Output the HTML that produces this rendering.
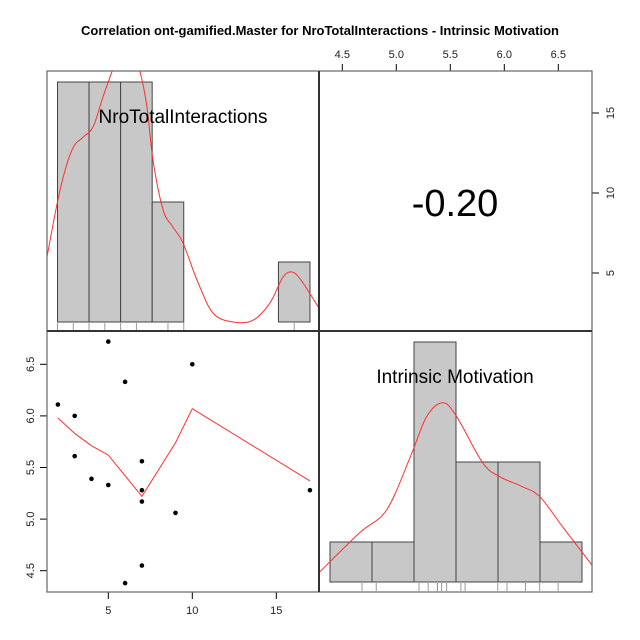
<!DOCTYPE html>
<html><head><meta charset="utf-8"><style>
html,body{margin:0;padding:0;background:#fff;}
svg{display:block;font-family:"Liberation Sans",Arial,sans-serif;}
</style></head><body>
<svg id="chart" width="640" height="640" viewBox="0 0 640 640" xmlns="http://www.w3.org/2000/svg">
<defs>
<clipPath id="clipTL"><rect x="47" y="71" width="272" height="260"/></clipPath>
<clipPath id="clipBR"><rect x="319" y="331" width="273" height="261"/></clipPath>
</defs>
<text x="320" y="35" text-anchor="middle" font-size="13" font-weight="bold">Correlation ont-gamified.Master for NroTotalInteractions - Intrinsic Motivation</text>
<g id="tl"></g>
<g id="tr"></g>
<g id="bl"></g>
<g id="br"></g>
<g id="frame"></g>
</svg>
<script>
// ---- data ----
const nroValues = [2,3,3,4,5,5,6,6,7,7,7,7,9,10,17];
const intrinsicValues = [6.11,6.00,5.61,5.39,6.72,5.33,6.33,4.38,5.56,5.28,5.17,4.55,5.06,6.50,5.28];
const loessX = [2,3,4,5,7,9,10,17];
const loessY = [5.98,5.83,5.71,5.62,5.22,5.74,6.07,5.37];
const nroBreaks = [2,4,6,8,10,12,14,16,18];
const nroCounts = [4,4,4,2,0,0,0,1];
const nroDensX = [1.33,2.16,2.92,3.62,4.25,4.88,5.45,5.96,6.59,7.23,7.67,8.05,8.69,9.32,9.95,10.84,11.85,13.12,14.39,15.47,16.29,16.92,17.56,18.57];
const nroDensY = [1.08,2.2,2.87,3.08,3.25,3.75,4.17,4.53,4.67,4.17,3.58,2.7,1.87,1.58,1.32,0.7,0.15,0,0.03,0.32,0.75,0.83,0.65,0.23];
const intCounts = [1,1,6,3,3,1];
const intBreakMin = 4.39, intBreakMax = 6.72;
const intDensX = [4.29,4.66,4.91,5.13,5.28,5.43,5.56,5.80,5.96,6.17,6.33,6.54,6.81];
const intDensY = [0.25,1.23,1.8,3.13,4.13,4.48,4.13,2.98,2.63,2.38,2.13,1.38,0.43];
const topTicks = ["4.5","5.0","5.5","6.0","6.5"];
const rightTicks = ["5","10","15"];
const leftTicks = ["4.5","5.0","5.5","6.0","6.5"];
const bottomTicks = ["5","10","15"];
const corrLabel = "-0.20";

// ---- scales ----
const NS = "http://www.w3.org/2000/svg";
const sx = v => 24.3 + v*16.8;               // scatter x
const sy = v => 570.7 - (v-4.5)*103.2;       // scatter y
const hx = v => 57.5 + (v-2)*15.78;          // top-left hist x
const hy = c => 322 - c*60;                  // top-left hist y
const tx = v => 342.3 + (v-4.5)*108;         // top axis
const ry = v => 273 - (v-5)*16;              // right axis
const bx = v => 330 + (v-intBreakMin)*(252/(intBreakMax-intBreakMin)); // br hist x
const by = c => 582 - c*40;
const rugB = v => 362 + (v-4.38)*83.8;

function mk(tag, attrs, parent){const e=document.createElementNS(NS,tag);for(const k in attrs)e.setAttribute(k,attrs[k]);parent.appendChild(e);return e;}
function smooth(pts){let d="M"+pts[0][0]+","+pts[0][1];for(let i=0;i<pts.length-1;i++){const p0=pts[i-1]||pts[i],p1=pts[i],p2=pts[i+1],p3=pts[i+2]||p2;const c1=[p1[0]+(p2[0]-p0[0])/6,p1[1]+(p2[1]-p0[1])/6],c2=[p2[0]-(p3[0]-p1[0])/6,p2[1]-(p3[1]-p1[1])/6];d+=" C"+c1[0]+","+c1[1]+" "+c2[0]+","+c2[1]+" "+p2[0]+","+p2[1];}return d;}

const TL=document.getElementById('tl'),TR=document.getElementById('tr'),BL=document.getElementById('bl'),BR=document.getElementById('br'),FR=document.getElementById('frame');

// top-left histogram
nroCounts.forEach((c,i)=>{ if(c<=0) return;
  const r=mk('rect',{x:hx(nroBreaks[i]),y:hy(c),width:hx(nroBreaks[i+1])-hx(nroBreaks[i]),height:hy(0)-hy(c),fill:'#c8c8c8',stroke:'#444','stroke-width':1},TL);
  
  
});
[...new Set(nroValues)].forEach(v=>{
  const l=mk('line',{x1:hx(v),x2:hx(v),y1:323,y2:330,stroke:'#999','stroke-width':1},TL);
  
  
});
const dTL=mk('path',{d:smooth(nroDensX.map((x,i)=>[hx(x),hy(nroDensY[i])])),fill:'none',stroke:'#ff3030','stroke-width':1,'clip-path':'url(#clipTL)'},TL);


const lab1=mk('text',{x:183,y:123,'text-anchor':'middle','font-size':19},TL);lab1.textContent="NroTotalInteractions";



// top-right correlation
const ct=mk('text',{x:455,y:216,'text-anchor':'middle','font-size':38},TR);ct.textContent=corrLabel;


mk('line',{x1:tx(4.5),x2:tx(6.5),y1:71,y2:71,stroke:'#000'},TR);
topTicks.forEach(t=>{const v=parseFloat(t);mk('line',{x1:tx(v),x2:tx(v),y1:71,y2:64,stroke:'#000'},TR);
  const e=mk('text',{x:tx(v),y:58,'text-anchor':'middle','font-size':11,fill:'#222'},TR);e.textContent=t;
  
  });
mk('line',{x1:592,x2:592,y1:ry(15),y2:ry(5),stroke:'#000'},TR);
rightTicks.forEach(t=>{const v=parseFloat(t);mk('line',{x1:592,x2:599,y1:ry(v),y2:ry(v),stroke:'#000'},TR);
  const e=mk('text',{x:0,y:0,'text-anchor':'middle','font-size':11,fill:'#222',transform:`translate(614,${ry(v)}) rotate(-90)`},TR);e.textContent=t;
  
  });

// bottom-left scatter
const lp=mk('polyline',{points:loessX.map((x,i)=>sx(x)+","+sy(loessY[i])).join(" "),fill:'none',stroke:'#ff3030','stroke-width':1},BL);


nroValues.forEach((x,i)=>{const c=mk('circle',{cx:sx(x),cy:sy(intrinsicValues[i]),r:2.3,fill:'#000'},BL);
  
  });
mk('line',{x1:47,x2:47,y1:sy(4.5),y2:sy(6.5),stroke:'#000'},BL);
leftTicks.forEach(t=>{const v=parseFloat(t);mk('line',{x1:47,x2:40,y1:sy(v),y2:sy(v),stroke:'#000'},BL);
  const e=mk('text',{x:0,y:0,'text-anchor':'middle','font-size':11,fill:'#222',transform:`translate(34,${sy(v)}) rotate(-90)`},BL);e.textContent=t;
  
  });
mk('line',{x1:sx(5),x2:sx(15),y1:592,y2:592,stroke:'#000'},BL);
bottomTicks.forEach(t=>{const v=parseFloat(t);mk('line',{x1:sx(v),x2:sx(v),y1:592,y2:599,stroke:'#000'},BL);
  const e=mk('text',{x:sx(v),y:614,'text-anchor':'middle','font-size':11,fill:'#222'},BL);e.textContent=t;
  
  });

// bottom-right histogram
const bw=(intBreakMax-intBreakMin)/intCounts.length;
intCounts.forEach((c,i)=>{const a=intBreakMin+i*bw,b=a+bw;
  const r=mk('rect',{x:bx(a),y:by(c),width:bx(b)-bx(a),height:by(0)-by(c),fill:'#c8c8c8',stroke:'#444','stroke-width':1},BR);
  
  });
intrinsicValues.forEach(v=>{const l=mk('line',{x1:rugB(v),x2:rugB(v),y1:583,y2:591,stroke:'#999'},BR);
  
  });
const dBR=mk('path',{d:smooth(intDensX.map((x,i)=>[tx(x),by(intDensY[i])])),fill:'none',stroke:'#ff3030','stroke-width':1,'clip-path':'url(#clipBR)'},BR);


const lab2=mk('text',{x:455,y:383,'text-anchor':'middle','font-size':19},BR);lab2.textContent="Intrinsic Motivation";



// frames
mk('rect',{x:47,y:71,width:545,height:521,fill:'none',stroke:'#666','stroke-width':1.2},FR);
mk('line',{x1:319,x2:319,y1:71,y2:592,stroke:'#333','stroke-width':2},FR);
mk('line',{x1:47,x2:592,y1:331,y2:331,stroke:'#333','stroke-width':2},FR);
</script>
</body></html>
